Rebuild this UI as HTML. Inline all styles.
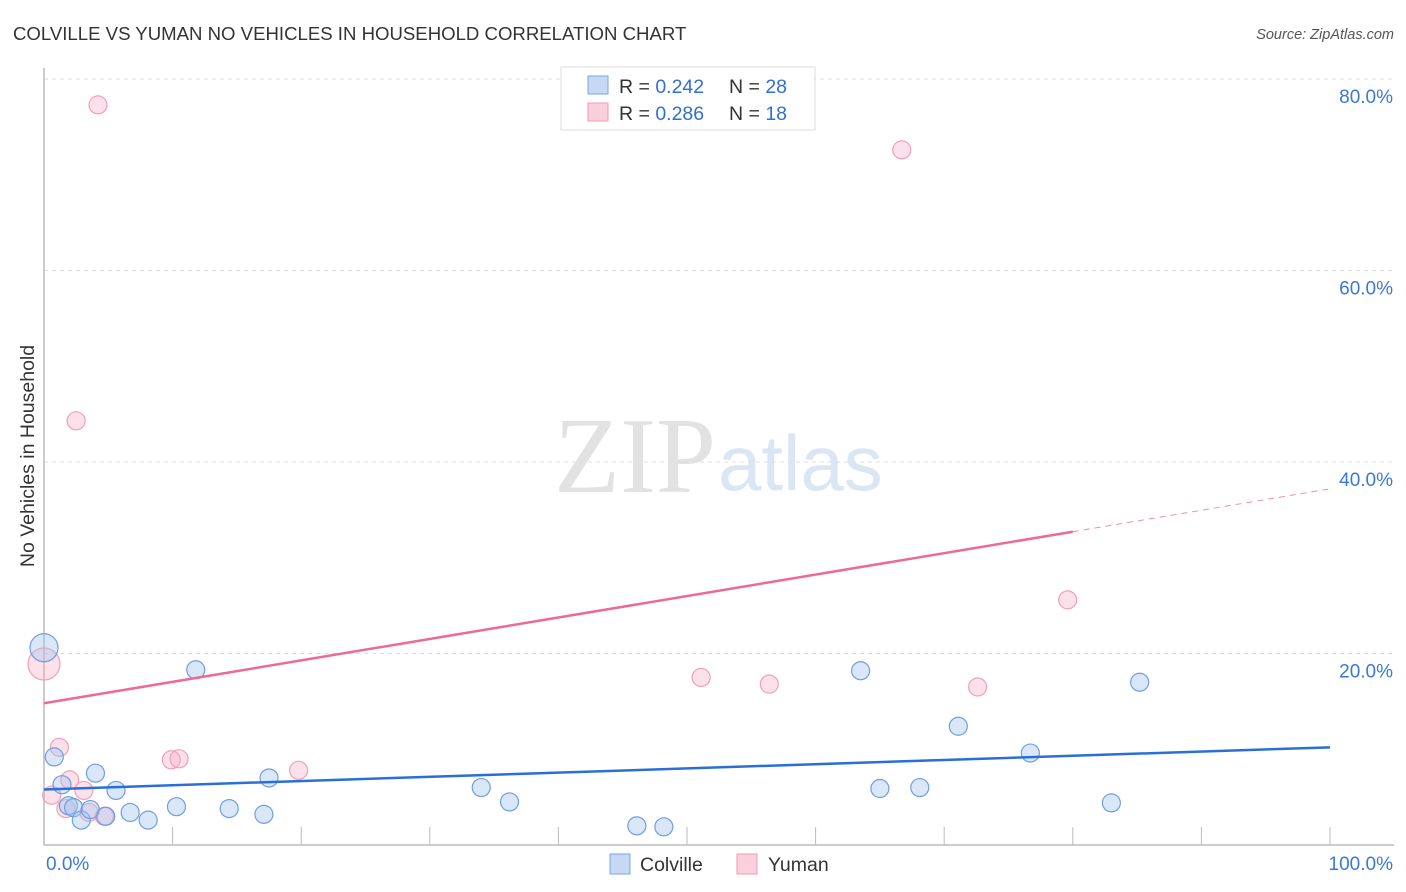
<!DOCTYPE html>
<html><head><meta charset="utf-8"><style>
body{margin:0;background:#fff;font-family:"Liberation Sans",sans-serif;}
svg{display:block}
</style></head><body>
<svg id="c" width="1406" height="892">
<text x="13" y="40" font-size="18.6" fill="#333">COLVILLE VS YUMAN NO VEHICLES IN HOUSEHOLD CORRELATION CHART</text>
<text x="1394" y="39" font-size="14.5" fill="#555" font-style="italic" text-anchor="end">Source: ZipAtlas.com</text>
<text x="716" y="492" font-size="108" fill="#e2e2e2" text-anchor="end" font-family="Liberation Serif,serif">ZIP</text>
<text x="718" y="490" font-size="78" fill="#dbe6f5">atlas</text>
<text transform="translate(34,456) rotate(-90)" font-size="19.5" fill="#333" text-anchor="middle">No Vehicles in Household</text>
<g id="grid"></g><g id="marks"></g>
<g>
<rect x="561" y="67" width="254" height="63" fill="#fff" stroke="#ddd"/>
<rect x="588" y="76" width="20" height="18" fill="#c5d9f5" stroke="#7aa5e0"/>
<rect x="588" y="103" width="20" height="18" fill="#fbd0dc" stroke="#f29ab5"/>
<text x="619" y="93" font-size="19.5" fill="#333">R = <tspan fill="#2f6fd6">0.242</tspan></text>
<text x="729" y="93" font-size="19.5" fill="#333">N = <tspan fill="#2f6fd6">28</tspan></text>
<text x="619" y="120" font-size="19.5" fill="#333">R = <tspan fill="#2f6fd6">0.286</tspan></text>
<text x="729" y="120" font-size="19.5" fill="#333">N =  <tspan fill="#2f6fd6">18</tspan></text>
</g>
<g>
<rect x="610" y="854" width="20" height="20" fill="#c5d9f5" stroke="#7aa5e0"/>
<text x="640" y="871" font-size="19.5" fill="#333">Colville</text>
<rect x="737" y="854" width="20" height="20" fill="#fbd0dc" stroke="#f29ab5"/>
<text x="768" y="871" font-size="19.5" fill="#333">Yuman</text>
</g>
</svg>
<script>
const yTicks=[20,40,60,80];
const yTickLabels=["20.0%","40.0%","60.0%","80.0%"];
const colvilleX=[0,0.8,1.4,1.9,2.3,2.9,3.6,4.0,4.8,5.6,6.7,8.1,10.3,11.8,14.4,17.1,17.5,34.0,36.2,46.1,48.2,63.5,65.0,68.1,71.1,76.7,83.0,85.2];
const colvilleY=[20.6,9.2,6.3,4.1,3.9,2.6,3.7,7.5,3.0,5.7,3.4,2.6,4.0,18.3,3.8,3.2,7.0,6.0,4.5,2.0,1.9,18.2,5.9,6.0,12.4,9.6,4.4,17.0];
const colvilleR=[14,9,9,9,9,9,9,9,9,9,9,9,9,9,9,9,9,9,9,9,9,9,9,9,9,9,9,9];
const yumanX=[0,4.2,2.5,1.2,2.0,3.1,1.7,0.6,4.7,9.9,10.5,19.8,51.1,56.4,66.7,72.6,79.6,3.5];
const yumanY=[18.9,77.3,44.3,10.2,6.8,5.7,3.8,5.2,3.0,8.9,9.0,7.8,17.5,16.8,72.6,16.5,25.6,3.4];
const yumanR=[16,9,9,9,9,9,9,9,9,9,9,9,9,9,9,9,9,9];
const colvilleTrend=[5.8,10.2];
const yumanTrend=[14.8,37.2];
const X=v=>44+v*12.86, Y=v=>845-v*9.575;
const NS="http://www.w3.org/2000/svg";
const g=document.getElementById('grid'), m=document.getElementById('marks');
function el(t,a,p){const e=document.createElementNS(NS,t);for(const k in a)e.setAttribute(k,a[k]);p.appendChild(e);return e;}
yTicks.forEach((t,i)=>{
 const l=el('line',{x1:44,x2:1394,y1:Y(t),y2:Y(t),stroke:'#ddd','stroke-dasharray':'4,4'},g);
 
 
 const tx=el('text',{x:1393,y:Y(t)+24,'font-size':19,fill:'#3b78d8','text-anchor':'end'},g);
 tx.textContent=yTickLabels[i];
 
 
});
const ax=el('line',{x1:44,x2:44,y1:68,y2:845,stroke:'#bbb','stroke-width':1.5},g);


const bx=el('line',{x1:44,x2:1394,y1:845,y2:845,stroke:'#bbb','stroke-width':1.5},g);


for(let i=1;i<=10;i++){const t=el('line',{x1:X(i*10),x2:X(i*10),y1:827,y2:845,stroke:'#bbb'},g);
 
 }
const xl0=el('text',{x:46,y:870,'font-size':19,fill:'#3b78d8'},g);xl0.textContent='0.0%';


const xl1=el('text',{x:1393,y:870,'font-size':19,fill:'#3b78d8','text-anchor':'end'},g);xl1.textContent='100.0%';


yumanX.forEach((v,i)=>{const c=el('circle',{cx:X(v),cy:Y(yumanY[i]),r:yumanR[i],fill:'rgba(248,170,195,0.35)',stroke:'#f0a0ba','stroke-width':1.2},m);
 
 });
colvilleX.forEach((v,i)=>{const c=el('circle',{cx:X(v),cy:Y(colvilleY[i]),r:colvilleR[i],fill:'rgba(160,195,240,0.4)',stroke:'#6f9ee0','stroke-width':1.2},m);
 
 });
const bl=el('line',{x1:X(0),y1:Y(colvilleTrend[0]),x2:X(100),y2:Y(colvilleTrend[1]),stroke:'#2a6fd6','stroke-width':2.5},m);


const yAt=x=>yumanTrend[0]+(yumanTrend[1]-yumanTrend[0])*x/100;
const pl=el('line',{x1:X(0),y1:Y(yAt(0)),x2:X(80),y2:Y(yAt(80)),stroke:'#ec6a93','stroke-width':2.5},m);


const pd=el('line',{x1:X(80),y1:Y(yAt(80)),x2:X(100),y2:Y(yAt(100)),stroke:'#ec8fae','stroke-width':1,'stroke-dasharray':'6,5'},m);


</script>
</body></html>
